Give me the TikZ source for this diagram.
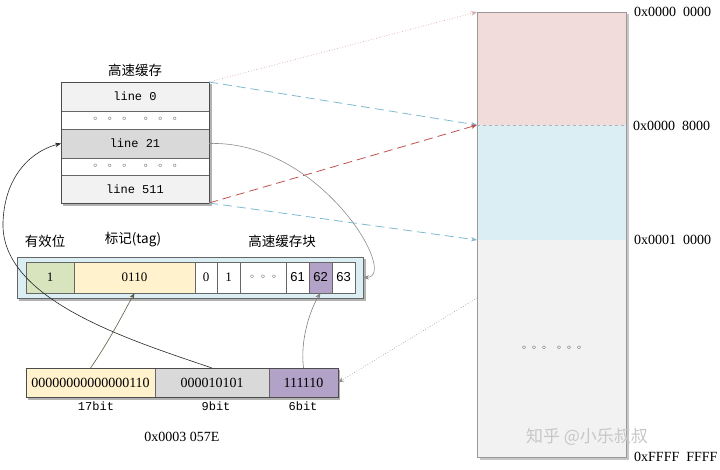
\documentclass[tikz,border=0pt]{standalone}
\usepackage{fontspec}
\setmainfont{Liberation Serif}
\newfontfamily\cjk{Noto Sans CJK SC}
\newfontfamily\dejavu{DejaVu Sans}
\newfontfamily\monof{Liberation Mono}
\newfontfamily\sansf{Liberation Sans}
\usetikzlibrary{arrows.meta}
\definecolor{rowgray}{HTML}{F2F2F2}
\definecolor{selgray}{HTML}{D9D9D9}
\definecolor{mempink}{HTML}{F2DCDB}
\definecolor{memblue}{HTML}{DBEEF4}
\definecolor{validgreen}{HTML}{D7E4BD}
\definecolor{tagyellow}{HTML}{FFF2CC}
\definecolor{offpurple}{HTML}{B3A2C7}
\definecolor{linkblue}{HTML}{7FBAD0}
\definecolor{linkred}{HTML}{C0504D}
\definecolor{linkpink}{HTML}{D8A8A8}
\newcommand{\dotgrp}[1]{{\dejavu\fontsize{10}{11}\selectfont\makebox[#1]{◦}\makebox[#1]{◦}\makebox[#1]{◦}}}
\newcommand{\dotsixc}{\dotgrp{14.5pt}\hspace{7pt}\dotgrp{14.5pt}}
\newcommand{\dotsixm}{\dotgrp{10pt}\hspace{5pt}\dotgrp{10pt}}
\newcommand{\dotthree}{\dotgrp{11pt}}
\begin{document}
\begin{tikzpicture}[x=1pt,y=-1pt,
  cell/.style={draw=black!60, line width=0.5pt, anchor=north west, inner sep=0pt, outer sep=0pt},
  crow/.style={cell, minimum width=148pt, font=\monof\fontsize{12}{13}\selectfont},
  bcell/.style={cell, minimum height=31pt, fill=white, font=\fontsize{13}{14}\selectfont},
  acell/.style={cell, minimum height=29pt, font=\fontsize{14}{15}\selectfont},
  mem/.style={anchor=north west, inner sep=0pt, outer sep=0pt, minimum width=149pt},
  cjklabel/.style={font=\cjk\fontsize{13.5}{15}\selectfont, inner sep=1pt},
  addr/.style={anchor=west, inner sep=0pt, font=\fontsize{14}{15}\selectfont},
  bitlabel/.style={inner sep=0pt, font=\monof\fontsize{12}{13}\selectfont},
  tip/.style={-{Stealth[length=6pt,width=4.5pt]}},
  shadowfill/.style={fill=black!30}
]
\useasboundingbox (0,0) rectangle (720,470);

% ---------- cache ----------
\node[cjklabel] (ctitle) at (135,70) {高速缓存};
\fill[shadowfill] (63,84) rectangle (212,206);
\node[crow, minimum height=29pt, fill=rowgray] (c0) at (61,82) {line 0};
\node[crow, minimum height=18pt, fill=white] (c1) at (61,111) {\dotsixc};
\node[crow, minimum height=29pt, fill=selgray] (c2) at (61,129) {line 21};
\node[crow, minimum height=17pt, fill=white] (c3) at (61,158) {\dotsixc};
\node[crow, minimum height=28pt, fill=rowgray] (c4) at (61,175) {line 511};
\draw[black!70, line width=0.8pt] (c0.north west) rectangle (c4.south east);

% ---------- memory ----------
\fill[black!22] (480,14) rectangle (629,460);
\node[mem, minimum height=113pt, fill=mempink] (m1) at (477,12) {};
\node[mem, minimum height=115pt, fill=memblue] (m2) at (477,125) {};
\node[mem, minimum height=217pt, fill=rowgray] (m3) at (477,240) {\dotsixm};
\draw[black!40, line width=0.5pt] (m1.north west) rectangle (m3.south east);
\draw[black!30, dashed, line width=0.4pt] (m2.north west) -- (m2.north east);
\node[addr] (l1) at (634,12) {0x0000\ \ 0000};
\node[addr] (l2) at (633,126) {0x0000\ \ 8000};
\node[addr] (l3) at (634,240) {0x0001\ \ 0000};
\node[addr] (l4) at (634,457) {0xFFFF\ \ FFFF};
\node[font=\cjk\fontsize{17}{19}\selectfont, text=black!22] (wm) at (587,437) {知乎 @小乐叔叔};

% ---------- cache line block ----------
\node[cjklabel] (lvalid) at (45,241) {有效位};
\node[cjklabel] (ltag) at (133,240) {标记(tag)};
\node[cjklabel] (lblock) at (282,241) {高速缓存块};
\fill[shadowfill] (19,259) rectangle (366,301);
\node[cell, draw=black!60, line width=0.8pt, fill=memblue, minimum width=346pt, minimum height=41pt] (frame) at (17,257) {};
\node[bcell, fill=validgreen, minimum width=48pt] (bv) at (26,262) {1};
\node[bcell, fill=tagyellow, minimum width=121pt] (bt) at (74,262) {0110};
\node[bcell, minimum width=22pt] (b0) at (195,262) {0};
\node[bcell, minimum width=23pt] (b1) at (217,262) {1};
\node[bcell, minimum width=46pt] (bd) at (240,262) {\dotthree};
\node[bcell, minimum width=23pt, font=\sansf\fontsize{13}{14}\selectfont] (b61) at (286,262) {61};
\node[bcell, minimum width=23pt, fill=offpurple, font=\sansf\fontsize{13}{14}\selectfont] (b62) at (309,262) {62};
\node[bcell, minimum width=23pt, font=\sansf\fontsize{13}{14}\selectfont] (b63) at (332,262) {63};

% ---------- address ----------
\fill[shadowfill] (28,370) rectangle (340,400);
\node[acell, fill=tagyellow, minimum width=129pt] (a1) at (26,368) {00000000000000110};
\node[acell, fill=selgray, minimum width=114pt] (a2) at (155,368) {000010101};
\node[acell, fill=offpurple, minimum width=69pt] (a3) at (269,368) {111110};
\draw[black!70, line width=0.8pt] (a1.north west) rectangle (a3.south east);
\node[bitlabel] (bit17) at (96,406) {17bit};
\node[bitlabel] (bit9) at (216,406) {9bit};
\node[bitlabel] (bit6) at (303,406) {6bit};
\node[inner sep=0pt, font=\fontsize{14}{15}\selectfont] (hex) at (182,437) {0x0003 057E};

% ---------- connectors ----------
\draw[linkpink, dotted, line width=0.7pt, tip] (c0.north east) -- (m1.north west);
\draw[linkblue, dash pattern=on 9pt off 5pt, line width=0.8pt, tip] (c0.north east) -- (m2.north west);
\draw[linkred, dash pattern=on 9pt off 5pt, line width=0.8pt, tip] (c4.south east) -- (m2.north west);
\draw[linkblue, dash pattern=on 9pt off 5pt, line width=0.8pt, tip] (c4.south east) -- (m3.north west);

\draw[black!45, line width=0.6pt, tip] (c2.east) .. controls (320,140) and (400,277) .. (frame.east);
\draw[black!85, line width=0.6pt, tip] (a2.north) .. controls (130,340) and (0,300) .. (3,222) .. controls (5,172) and (35,150) .. (c2.west);
\draw[black!55!yellow!60!black, line width=0.6pt, tip] (a1.north) .. controls (110,340) and (125,310) .. (bt.south);
\draw[black!50, line width=0.6pt, tip] (a3.north) .. controls (300,340) and (310,310) .. (b62.south);
\coordinate (mfrom) at (477,298);
\draw[black!45, dotted, line width=0.6pt, tip] (mfrom) -- (a3.east);
\end{tikzpicture}
\end{document}
